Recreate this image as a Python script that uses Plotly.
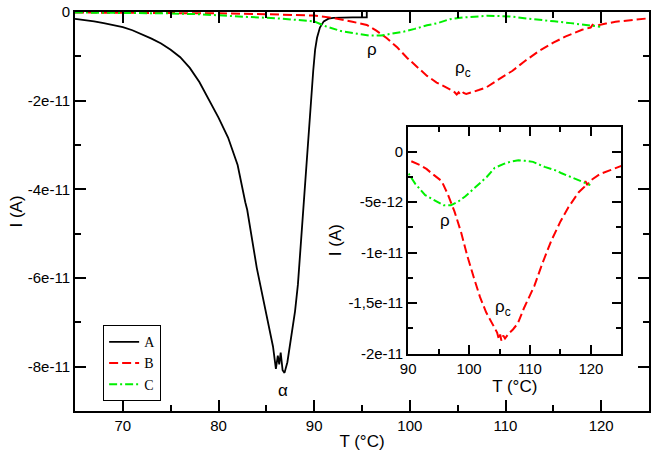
import numpy as np
import plotly.graph_objects as go

# curve A (black), current in pA
T_A = [65, 66, 67, 68, 69, 70, 71, 72, 73, 74, 75, 76, 77, 78, 79, 80, 81, 82,
       82.8, 83, 84, 85, 85.7, 86.0, 86.2, 86.35, 86.5, 86.7, 86.9, 87.2, 87.6,
       88.0, 88.3, 88.6, 88.9, 89.2, 89.4, 89.6, 89.9, 90.1, 90.3, 90.6, 91.0,
       91.5, 92, 94, 95.5, 95.5]
I_A = [-1.55, -1.8, -2.1, -2.5, -2.9, -3.4, -4.1, -5.0, -6.0, -7.1, -8.5, -10.2,
       -12.6, -15.8, -19.8, -23.8, -28.3, -34.5, -42.9, -44.6, -57.7, -67.8,
       -75.5, -80.5, -77.5, -79.5, -76.8, -80.8, -81.4, -79.0, -73.5, -67.5,
       -61.5, -52.0, -42.9, -33.5, -28.0, -22.2, -13.3, -8.5, -5.8, -3.5, -2.1,
       -1.5, -1.3, -1.2, -1.2, 0]

# curve B (red, dashed)
T_B = [65, 70, 75, 80, 85, 88.4, 90, 91.9, 93, 94, 95.5, 96.5, 97.6, 98.7, 99.7,
       100.8, 101.8, 102.8, 103.8, 104.6, 104.9, 105.1, 105.3, 105.6, 105.9,
       106.5, 107.2, 108.0, 109.0, 110, 110.7, 112, 113.5, 115, 116.3, 118,
       118.9, 119.1, 119.4, 119.8, 120.5, 121.5, 123.3, 125]
I_B = [-0.1, -0.15, -0.2, -0.3, -0.5, -0.7, -0.8, -1.3, -1.7, -2.2, -2.9, -4.2,
       -5.9, -8.0, -10.3, -12.5, -14.4, -15.9, -17.0, -17.9, -18.6, -18.1, -18.7,
       -18.2, -18.5, -18.0, -17.6, -17.0, -15.5, -14.2, -13.3, -11.1, -8.8, -6.9,
       -5.5, -4.0, -3.5, -2.9, -3.3, -2.9, -2.6, -2.2, -1.8, -1.4]

# curve C (green, dash-dot)
T_C = [65, 70, 75, 78, 80, 83, 86, 88, 90, 91.2, 92.8, 94.5, 95.8, 97.0, 98.3,
       99.4, 100.5, 101.8, 102.9, 104.2, 105.7, 107, 108.1, 109.2, 110.5, 112.4,
       114, 115.1, 116.8, 118.4, 119.5, 119.9]
I_C = [-0.1, -0.15, -0.3, -0.5, -0.8, -1.1, -1.4, -1.7, -2.1, -3.2, -4.3, -4.9,
       -5.3, -5.3, -4.9, -4.4, -3.8, -3.0, -2.5, -1.6, -1.2, -0.95, -0.85, -0.9,
       -1.0, -1.5, -1.8, -2.1, -2.5, -2.9, -3.2, -3.3]

main_x_ticks = [70, 80, 90, 100, 110, 120]
main_y_vals = [0, -2e-11, -4e-11, -6e-11, -8e-11]
main_y_text = ["0", "-2e-11", "-4e-11", "-6e-11", "-8e-11"]
ins_x_ticks = [90, 100, 110, 120]
ins_y_vals = [0, -5e-12, -1e-11, -1.5e-11, -2e-11]
ins_y_text = ["0", "-5e-12", "-1e-11", "-1,5e-11", "-2e-11"]

pA = 1e-12
red = "#ff0000"
green = "#00f000"
dash_b = "9px,4px"
dash_c = "8px,3px,2px,3px"

fig = go.Figure()

# main plot
fig.add_trace(go.Scatter(x=T_A, y=np.array(I_A) * pA, mode="lines", name="A",
                         line=dict(color="black", width=1.8)))
fig.add_trace(go.Scatter(x=T_B, y=np.array(I_B) * pA, mode="lines", name="B",
                         line=dict(color=red, width=2, dash=dash_b)))
fig.add_trace(go.Scatter(x=T_C, y=np.array(I_C) * pA, mode="lines", name="C",
                         line=dict(color=green, width=2, dash=dash_c)))

# inset
fig.add_trace(go.Scatter(x=T_B, y=np.array(I_B) * pA, mode="lines", showlegend=False,
                         line=dict(color=red, width=2, dash=dash_b),
                         xaxis="x2", yaxis="y2"))
fig.add_trace(go.Scatter(x=T_C, y=np.array(I_C) * pA, mode="lines", showlegend=False,
                         line=dict(color=green, width=2, dash=dash_c),
                         xaxis="x2", yaxis="y2"))

font = "Liberation Sans, Arial, sans-serif"
ax_common = dict(showline=True, linewidth=2, linecolor="black", mirror="ticks",
                 ticks="inside", tickwidth=1.5, tickcolor="black", showgrid=False,
                 zeroline=False, ticklabeloverflow="allow")

fig.update_layout(
    width=654, height=455,
    margin=dict(l=75, r=3, t=7, b=44),
    paper_bgcolor="white", plot_bgcolor="white",
    font=dict(family=font, size=15, color="black"),
    xaxis=dict(ax_common, range=[65, 125], tickvals=main_x_ticks, ticklen=11,
               minor=dict(dtick=5, tick0=65, ticklen=6, ticks="inside", tickcolor="black"),
               tickfont=dict(size=15), title=dict(text="T (°C)", font=dict(size=17), standoff=2)),
    yaxis=dict(ax_common, range=[-9e-11, 1e-14], tickvals=main_y_vals, ticktext=main_y_text,
               ticklen=11,
               minor=dict(dtick=1e-11, tick0=0, ticklen=6, ticks="inside", tickcolor="black"),
               tickfont=dict(size=15), title=dict(text="I (A)", font=dict(size=17), standoff=1)),
    xaxis2=dict(ax_common, domain=[0.5804, 0.9519], anchor="y2", range=[90, 125],
                tickvals=ins_x_ticks, ticklen=9,
                minor=dict(dtick=5, tick0=90, ticklen=5, ticks="inside", tickcolor="black"),
                tickfont=dict(size=15), title=dict(text="T (°C)", font=dict(size=17), standoff=3)),
    yaxis2=dict(ax_common, domain=[0.1436, 0.713], anchor="x2", range=[-2e-11, 2.5e-12],
                tickvals=ins_y_vals, ticktext=ins_y_text, ticklen=9,
                minor=dict(tickmode="linear", dtick=2.5e-12, tick0=0, ticklen=5,
                           ticks="inside", tickcolor="black"),
                tickfont=dict(size=15), title=dict(text="I (A)", font=dict(size=17), standoff=2)),
    legend=dict(x=0.049, y=0.215, xanchor="left", yanchor="top",
                bgcolor="white", bordercolor="black", borderwidth=1,
                font=dict(family="Liberation Serif, Times New Roman, serif", size=14),
                itemwidth=30, tracegroupgap=0),
)

# peak labels
labels = [
    dict(x=96.0, y=-8.5e-12, text="ρ", xref="x", yref="y"),
    dict(x=105.6, y=-12.9e-12, text="ρ<sub>c</sub>", xref="x", yref="y"),
    dict(x=86.7, y=-85.3e-12, text="α", xref="x", yref="y"),
    dict(x=96.1, y=-6.8e-12, text="ρ", xref="x2", yref="y2"),
    dict(x=105.6, y=-15.5e-12, text="ρ<sub>c</sub>", xref="x2", yref="y2"),
]
for lab in labels:
    fig.add_annotation(showarrow=False, font=dict(size=17), **lab)

# the page body has a default margin, drop it so the figure fills the window
fig.write_html("out.html", config={"displayModeBar": False},
               post_script="document.body.style.margin='0px';")
